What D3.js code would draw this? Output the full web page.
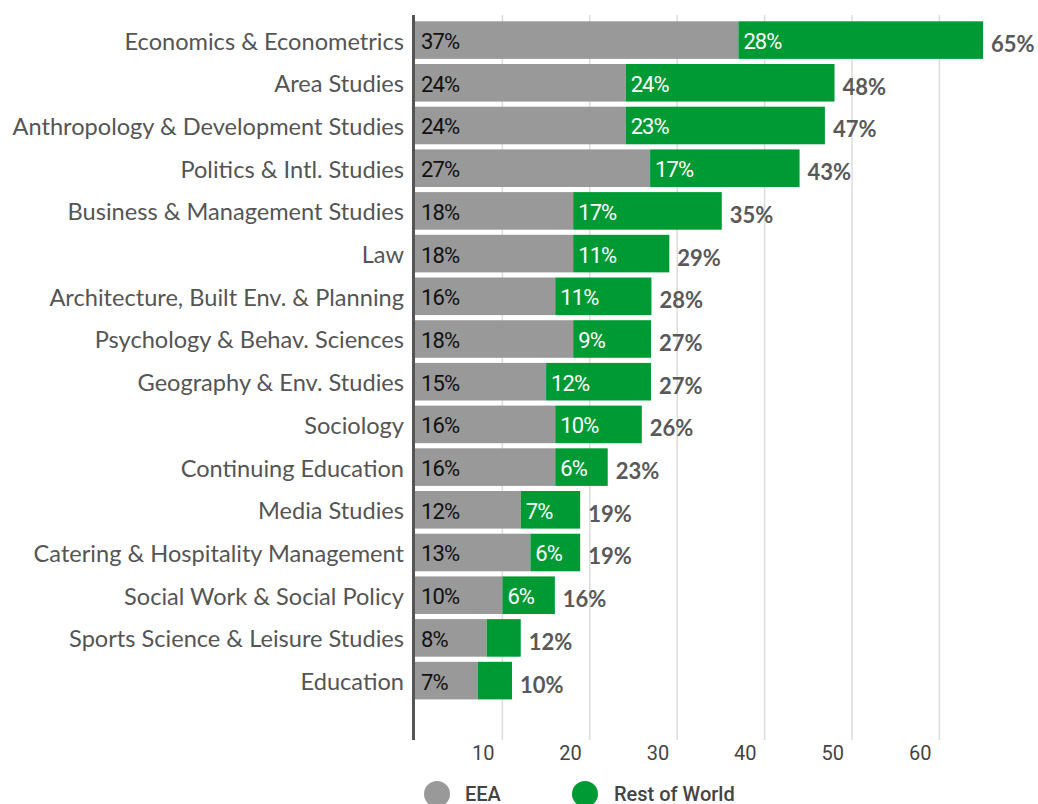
<!DOCTYPE html>
<html>
<head>
<meta charset="utf-8">
<script src="https://cdn.jsdelivr.net/npm/d3@7"></script>
<style>
  body { margin: 0; background: #fff; }
  svg { display: block; }
</style>
</head>
<body>
<svg width="1038" height="804"></svg>
<script>
// subjects, top to bottom
let subjects = [
  "Economics & Econometrics",
  "Area Studies",
  "Anthropology & Development Studies",
  "Politics & Intl. Studies",
  "Business & Management Studies",
  "Law",
  "Architecture, Built Env. & Planning",
  "Psychology & Behav. Sciences",
  "Geography & Env. Studies",
  "Sociology",
  "Continuing Education",
  "Media Studies",
  "Catering & Hospitality Management",
  "Social Work & Social Policy",
  "Sports Science & Leisure Studies",
  "Education"
];

// bar lengths
let eea = [37, 24.1, 24.1, 26.9, 18.1, 18.1, 16.05, 18.1, 15, 16.05, 16.05, 12.1, 13.2, 10, 8.2, 7.2];
let row = [28, 23.9, 22.8, 17.1, 17, 11, 11, 8.9, 12, 9.9, 6, 6.8, 5.7, 6, 3.9, 3.9];

// printed labels
let eeaText = ["37%", "24%", "24%", "27%", "18%", "18%", "16%", "18%", "15%", "16%", "16%", "12%", "13%", "10%", "8%", "7%"];
let rowText = ["28%", "24%", "23%", "17%", "17%", "11%", "11%", "9%", "12%", "10%", "6%", "7%", "6%", "6%", "", ""];
let totalText = ["65%", "48%", "47%", "43%", "35%", "29%", "28%", "27%", "27%", "26%", "23%", "19%", "19%", "16%", "12%", "10%"];

let ticks = [10, 20, 30, 40, 50, 60];
let series = ["EEA", "Rest of World"];
let colors = ["#999999", "#009a35"];

let svg = d3.select("svg");

let x = d3.scaleLinear().domain([0, 65]).range([415, 983.1]);
let y = d3.scaleBand().domain(subjects).range([21.3, 699.4])
    .paddingInner(0.12).paddingOuter(0);

let data = subjects.map((s, i) => ({
  name: s, eea: eea[i], row: row[i],
  eeaText: eeaText[i], rowText: rowText[i], totalText: totalText[i]
}));

// gridlines
svg.append("g")
  .selectAll("line")
  .data(ticks)
  .enter().append("line")
    .attr("x1", d => x(d)).attr("x2", d => x(d))
    .attr("y1", 15).attr("y2", 740)
    .style("stroke", "#dcdcdc")
    .style("stroke-width", 1.5);

// tick labels
svg.append("g")
  .selectAll("text")
  .data(ticks)
  .enter().append("text")
    .attr("x", d => x(d) - 8)
    .attr("y", 760)
    .attr("text-anchor", "end")
    .style("font-family", "Roboto")
    .style("font-size", "20px")
    .style("fill", "#444")
    .text(d => d);

let bars = svg.append("g")
  .selectAll("g")
  .data(data)
  .enter().append("g")
    .attr("transform", d => `translate(0,${y(d.name)})`);

bars.append("rect")
  .attr("x", x(0))
  .attr("width", d => x(d.eea) - x(0))
  .attr("height", y.bandwidth())
  .attr("fill", colors[0]);

bars.append("rect")
  .attr("x", d => x(d.eea))
  .attr("width", d => x(d.eea + d.row) - x(d.eea))
  .attr("height", y.bandwidth())
  .attr("fill", colors[1]);

let mid = y.bandwidth() / 2;

bars.append("text")
  .attr("x", x(0) + 6)
  .attr("y", mid + 1)
  .attr("dy", "0.36em")
  .style("font-family", "Roboto")
  .style("font-size", "22px")
  .style("letter-spacing", "-0.9px")
  .style("fill", "#111")
  .text(d => d.eeaText);

bars.append("text")
  .attr("x", d => x(d.eea) + 5)
  .attr("y", mid + 1)
  .attr("dy", "0.36em")
  .style("font-family", "Roboto")
  .style("font-size", "22px")
  .style("letter-spacing", "-0.9px")
  .style("fill", "#fff")
  .text(d => d.rowText);

bars.append("text")
  .attr("x", d => x(d.eea + d.row) + 8)
  .attr("y", mid + 4)
  .attr("dy", "0.36em")
  .style("font-family", "Lato")
  .style("font-weight", "bold")
  .style("font-size", "22px")
  .style("fill", "#595959")
  .text(d => d.totalText);

// category labels
svg.append("g")
  .selectAll("text")
  .data(subjects)
  .enter().append("text")
    .attr("x", 404)
    .attr("y", d => y(d) + mid + 1)
    .attr("dy", "0.36em")
    .attr("text-anchor", "end")
    .style("font-family", "Lato")
    .style("font-size", "23.6px")
    .style("fill", "#555")
    .text(d => d);

// y axis line
svg.append("line")
  .attr("x1", 413.5).attr("x2", 413.5)
  .attr("y1", 15).attr("y2", 740)
  .style("stroke", "#555")
  .style("stroke-width", 3);

// legend
let legendX = [437, 585];
let legend = svg.append("g")
  .selectAll("g")
  .data(series)
  .enter().append("g")
    .attr("transform", (d, i) => `translate(${legendX[i]},794)`);

legend.append("circle")
  .attr("r", 13)
  .attr("fill", (d, i) => colors[i]);

legend.append("text")
  .attr("x", (d, i) => i == 0 ? 28 : 29)
  .attr("y", 7)
  .style("font-family", "Roboto")
  .style("font-weight", 500)
  .style("font-size", "20px")
  .style("fill", "#444")
  .text(d => d);
</script>
</body>
</html>
